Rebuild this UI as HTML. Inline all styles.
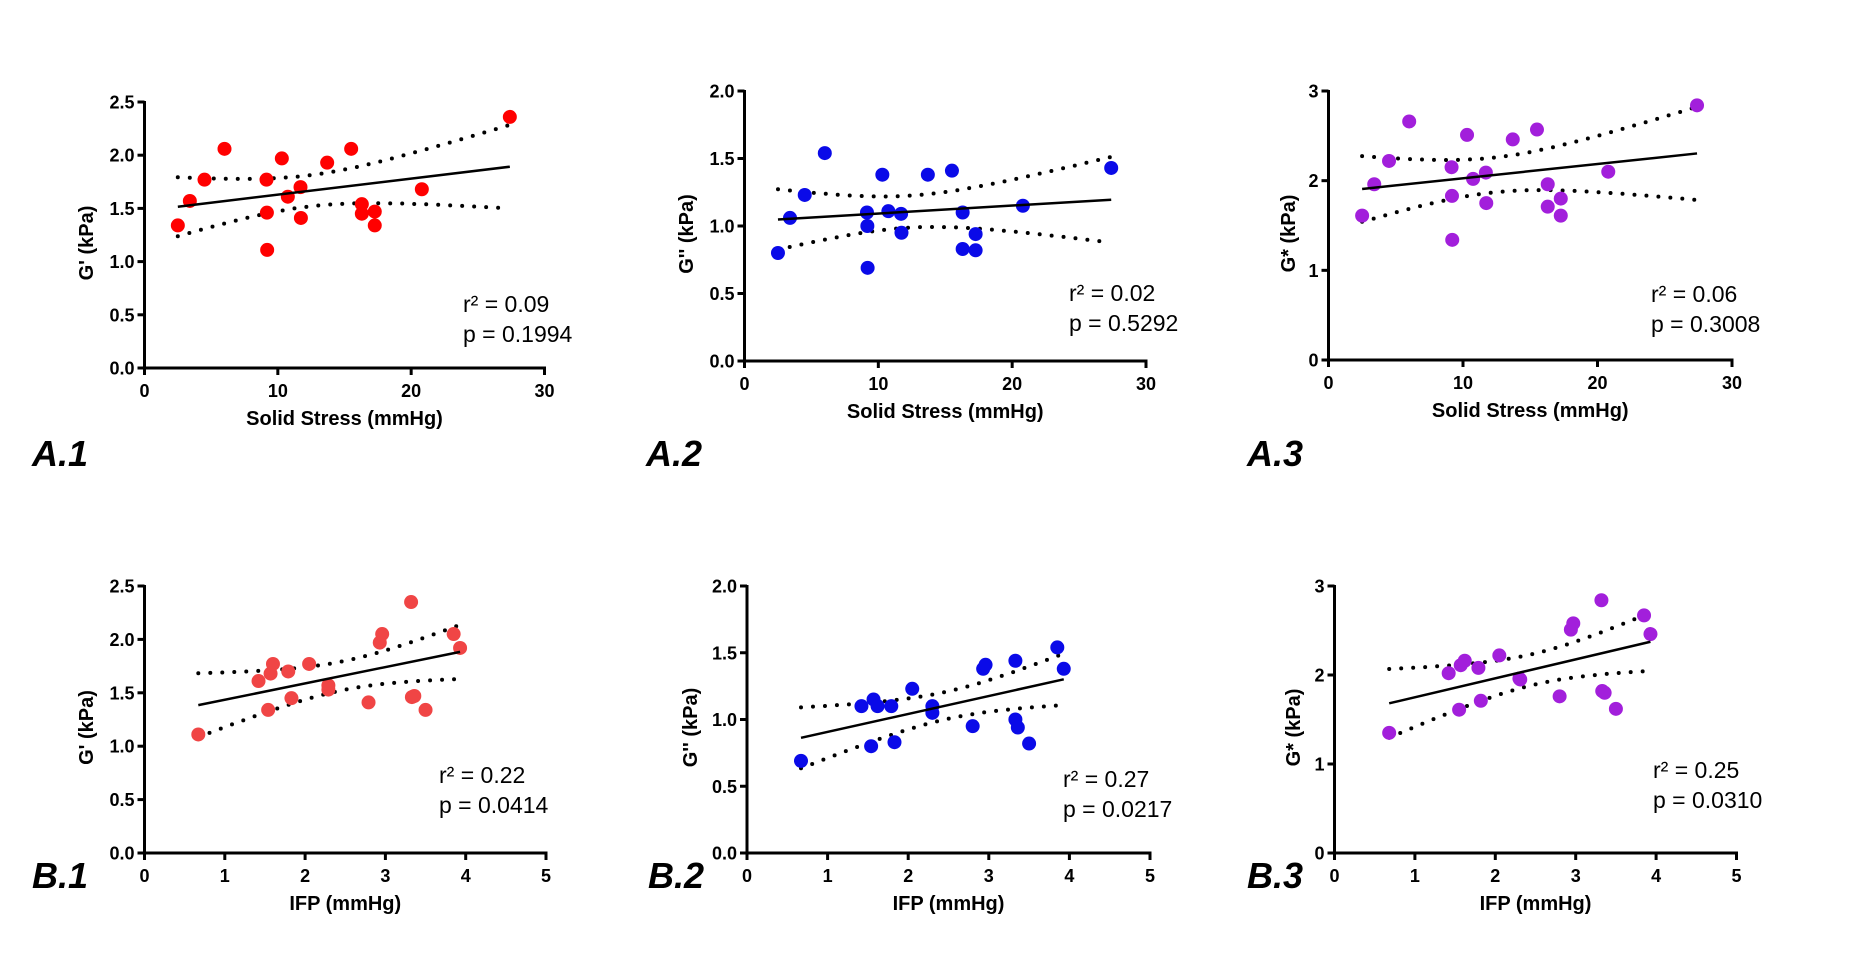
<!DOCTYPE html>
<html><head><meta charset="utf-8"><style>
body{margin:0;background:#fff;}
svg{display:block;font-family:"Liberation Sans",Arial,sans-serif;}
</style></head><body>
<svg id="fig" width="1851" height="975" viewBox="0 0 1851 975"></svg>
<script>
const solidStress = [2.5,3.4,4.5,6.0,9.15,9.18,9.2,10.3,10.75,11.7,11.73,13.7,15.5,16.3,16.3,17.27,17.27,20.8,27.4];
const gPrimeA = [1.34,1.57,1.77,2.06,1.77,1.46,1.11,1.97,1.61,1.70,1.41,1.93,2.06,1.54,1.45,1.47,1.34,1.68,2.36];
const gDoubleA = [0.80,1.06,1.23,1.54,1.10,1.00,0.69,1.38,1.11,1.09,0.95,1.38,1.41,1.10,0.83,0.94,0.82,1.15,1.43];
const gStarA = [1.61,1.96,2.22,2.66,2.15,1.83,1.34,2.51,2.02,2.09,1.75,2.46,2.57,1.96,1.71,1.80,1.61,2.10,2.84];
const ifpB1 = [0.67,1.42,1.54,1.57,1.60,1.79,1.83,2.05,2.29,2.29,2.79,2.93,2.96,3.32,3.33,3.36,3.50,3.85,3.93];
const gPrimeB = [1.11,1.61,1.34,1.68,1.77,1.70,1.45,1.77,1.57,1.53,1.41,1.97,2.05,2.35,1.46,1.47,1.34,2.05,1.92];
const ifpB2 = [0.67,1.42,1.57,1.54,1.62,1.79,1.83,2.05,2.30,2.30,2.80,2.93,2.96,3.33,3.33,3.36,3.50,3.85,3.93];
const gDoubleB = [0.69,1.10,1.15,0.80,1.10,1.10,0.83,1.23,1.10,1.05,0.95,1.38,1.41,1.44,1.00,0.94,0.82,1.54,1.38];
const ifpB3 = [0.68,1.42,1.55,1.57,1.62,1.79,1.82,2.05,2.30,2.31,2.80,2.94,2.97,3.32,3.33,3.36,3.50,3.85,3.93];
const gStarB = [1.35,2.02,1.61,2.11,2.16,2.08,1.71,2.22,1.96,1.95,1.76,2.51,2.58,2.84,1.82,1.80,1.62,2.67,2.46];
const ssTicks = [0,10,20,30];
const ifpTicks = [0,1,2,3,4,5];
const gpTicks = ["0.0","0.5","1.0","1.5","2.0","2.5"];
const gdTicks = ["0.0","0.5","1.0","1.5","2.0"];
const gsTicks = ["0","1","2","3"];

const NS="http://www.w3.org/2000/svg";
const svg=document.getElementById('fig');
function mk(tag,attrs,parent){const e=document.createElementNS(NS,tag);for(const k in attrs)e.setAttribute(k,attrs[k]);(parent||svg).appendChild(e);return e;}

const panels=[
 {id:'a1',xs:solidStress,ys:gPrimeA,xt:ssTicks,yt:gpTicks,xmax:30,ymax:2.5,x0:144.5,x1:544.5,y0:368,y1:102,color:'#ff0000',xtitle:'Solid Stress (mmHg)',ytitle:"G' (kPa)",ytx:86,r2:'0.09',p:'0.1994',tx:463,ty:312,lab:'A.1',lx:32,ly:466},
 {id:'a2',xs:solidStress,ys:gDoubleA,xt:ssTicks,yt:gdTicks,xmax:30,ymax:2,x0:744.5,x1:1146,y0:361,y1:91,color:'#0a0ae8',xtitle:'Solid Stress (mmHg)',ytitle:'G\'\' (kPa)',ytx:686,r2:'0.02',p:'0.5292',tx:1069,ty:301,lab:'A.2',lx:646,ly:466},
 {id:'a3',xs:solidStress,ys:gStarA,xt:ssTicks,yt:gsTicks,xmax:30,ymax:3,x0:1328.5,x1:1732,y0:360,y1:91,color:'#a21fdb',xtitle:'Solid Stress (mmHg)',ytitle:'G* (kPa)',ytx:1288,r2:'0.06',p:'0.3008',tx:1651,ty:302,lab:'A.3',lx:1247,ly:466},
 {id:'b1',xs:ifpB1,ys:gPrimeB,xt:ifpTicks,yt:gpTicks,xmax:5,ymax:2.5,x0:144.5,x1:546,y0:853,y1:586,color:'#f04545',xtitle:'IFP (mmHg)',ytitle:"G' (kPa)",ytx:86,r2:'0.22',p:'0.0414',tx:439,ty:783,lab:'B.1',lx:32,ly:888},
 {id:'b2',xs:ifpB2,ys:gDoubleB,xt:ifpTicks,yt:gdTicks,xmax:5,ymax:2,x0:747,x1:1150,y0:853,y1:586,color:'#0a0ae8',xtitle:'IFP (mmHg)',ytitle:'G\'\' (kPa)',ytx:690,r2:'0.27',p:'0.0217',tx:1063,ty:787,lab:'B.2',lx:648,ly:888},
 {id:'b3',xs:ifpB3,ys:gStarB,xt:ifpTicks,yt:gsTicks,xmax:5,ymax:3,x0:1334.5,x1:1736.5,y0:853,y1:586,color:'#a21fdb',xtitle:'IFP (mmHg)',ytitle:'G* (kPa)',ytx:1293,r2:'0.25',p:'0.0310',tx:1653,ty:778,lab:'B.3',lx:1247,ly:888}
];

panels.forEach(P=>{
  const g=mk('g',{});
  
  
  const X=v=>P.x0+(v/P.xmax)*(P.x1-P.x0);
  const Y=v=>P.y0-(v/P.ymax)*(P.y0-P.y1);
  const ya=mk('line',{x1:P.x0,y1:P.y1-1,x2:P.x0,y2:P.y0+1.5,stroke:'#000','stroke-width':3},g);
  
  
  const xa=mk('line',{x1:P.x0-1.5,y1:P.y0,x2:P.x1+1.5,y2:P.y0,stroke:'#000','stroke-width':3},g);
  
  
  P.yt.forEach(t=>{
    const v=parseFloat(t),y=Y(v);
    mk('line',{x1:P.x0-7,y1:y,x2:P.x0,y2:y,stroke:'#000','stroke-width':3},g);
    const tl=mk('text',{x:P.x0-10,y:y+6.5,'text-anchor':'end','font-size':18,'font-weight':'bold'},g);
    tl.textContent=t;
    
    
  });
  P.xt.forEach(t=>{
    const x=X(t);
    mk('line',{x1:x,y1:P.y0,x2:x,y2:P.y0+7,stroke:'#000','stroke-width':3},g);
    const tl=mk('text',{x:x,y:P.y0+29,'text-anchor':'middle','font-size':18,'font-weight':'bold'},g);
    tl.textContent=String(t);
    
    
  });
  const xt=mk('text',{x:(P.x0+P.x1)/2,y:P.y0+57,'text-anchor':'middle','font-size':20,'font-weight':'bold'},g);
  xt.textContent=P.xtitle;
  
  
  const cy=(P.y0+P.y1)/2+8;
  const yt=mk('text',{x:P.ytx,y:cy,'text-anchor':'middle','font-size':20,'font-weight':'bold',transform:`rotate(-90 ${P.ytx} ${cy})`,dy:7},g);
  yt.textContent=P.ytitle;
  
  
  const n=P.xs.length;let mx=0,my=0;P.xs.forEach((v,i)=>{mx+=v;my+=P.ys[i];});mx/=n;my/=n;
  let sxx=0,sxy=0;P.xs.forEach((v,i)=>{sxx+=(v-mx)**2;sxy+=(v-mx)*(P.ys[i]-my);});
  const b=sxy/sxx,a=my-b*mx;let sse=0;P.xs.forEach((v,i)=>{sse+=(P.ys[i]-a-b*v)**2;});
  const s=Math.sqrt(sse/(n-2)),tcrit=2.11;
  const xmin=Math.min(...P.xs),xmaxd=Math.max(...P.xs);
  let up=[],lo=[];
  for(let k=0;k<=60;k++){const xv=xmin+(xmaxd-xmin)*k/60;const h=tcrit*s*Math.sqrt(1/n+(xv-mx)**2/sxx);
    up.push(X(xv).toFixed(1)+','+Y(a+b*xv+h).toFixed(1));lo.push(X(xv).toFixed(1)+','+Y(a+b*xv-h).toFixed(1));}
  [up,lo].forEach((pts,i)=>{
    const pl=mk('polyline',{points:pts.join(' '),fill:'none',stroke:'#000','stroke-width':4,'stroke-linecap':'round','stroke-dasharray':'0 12'},g);
    
    
  });
  P.xs.forEach((v,i)=>{
    const c=mk('circle',{cx:X(v),cy:Y(P.ys[i]),r:7,fill:P.color},g);
    
    
  });
  const rl=mk('line',{x1:X(xmin),y1:Y(a+b*xmin),x2:X(xmaxd),y2:Y(a+b*xmaxd),stroke:'#000','stroke-width':2.5},g);
  
  
  const t1=mk('text',{x:P.tx,y:P.ty,'font-size':23},g);
  t1.textContent='r² = '+P.r2;
  
  
  const t2=mk('text',{x:P.tx,y:P.ty+30,'font-size':23},g);
  t2.textContent='p = '+P.p;
  
  
  const pl=mk('text',{x:P.lx,y:P.ly,'font-size':36,'font-weight':'bold','font-style':'italic'},g);
  pl.textContent=P.lab;
  
  
});
</script>
</body></html>
